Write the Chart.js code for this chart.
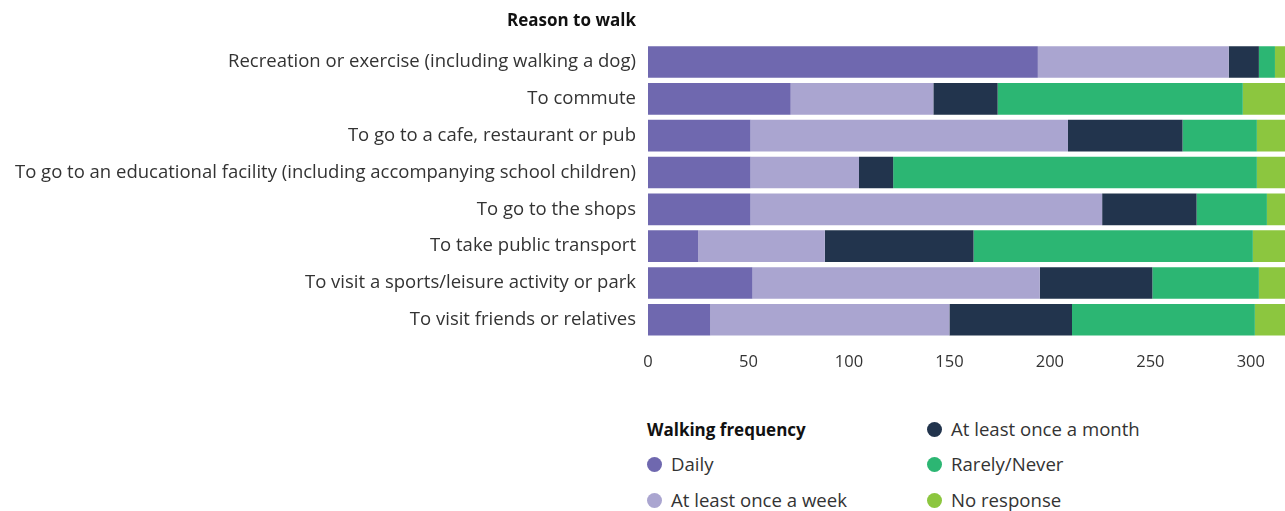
<!DOCTYPE html>
<html>
<head>
<meta charset="utf-8">
<script src="https://cdn.jsdelivr.net/npm/chart.js@4"></script>
<style>
    body { margin: 0; background: #fff; font-family: 'Open Sans', sans-serif; color: #333; }
    #wrap { position: relative; width: 1285px; height: 511px; }
    #walkChart { position: absolute; left: 0; top: 0; }
    #axisTitle { position: absolute; right: 649px; top: 8px; font-weight: bold; font-size: 17px; color: #111; }
    #legendTitle { position: absolute; left: 647px; top: 418px; font-weight: bold; font-size: 17px; color: #111; }
    .legend-item { position: absolute; font-size: 18.6px; color: #333; white-space: nowrap; line-height: 24px; }
    .legend-item span.dot { position: absolute; left: -24px; top: 5px; width: 15px; height: 15px; border-radius: 50%; }
</style>
</head>
<body>
<div id="wrap">
    <canvas id="walkChart" width="1285" height="387"></canvas>
    <div id="axisTitle">Reason to walk</div>
    <div id="legendTitle">Walking frequency</div>
</div>
<script>
const reasons = [
    'Recreation or exercise (including walking a dog)',
    'To commute',
    'To go to a cafe, restaurant or pub',
    'To go to an educational facility (including accompanying school children)',
    'To go to the shops',
    'To take public transport',
    'To visit a sports/leisure activity or park',
    'To visit friends or relatives'
];

const frequencies = ['Daily', 'At least once a week', 'At least once a month', 'Rarely/Never', 'No response'];
const frequencyColors = ['#6f68af', '#aaa5d0', '#22344d', '#2cb673', '#8cc63f'];

const daily = [194, 71, 51, 51, 51, 25, 52, 31];
const weekly = [95, 71, 158, 54, 175, 63, 143, 119];
const monthly = [15, 32, 57, 17, 47, 74, 56, 61];
const rarelyNever = [8, 122, 37, 181, 35, 139, 53, 91];
const noResponse = [5, 21, 14, 14, 9, 16, 13, 15];

const xTicks = [0, 50, 100, 150, 200, 250, 300];
const xMax = 317;

document.addEventListener('DOMContentLoaded', () => {
    const walkCtx = document.getElementById('walkChart').getContext('2d');
    const seriesValues = [daily, weekly, monthly, rarelyNever, noResponse];

    const walkData = {
        labels: reasons,
        datasets: frequencies.map((name, i) => ({
            label: name,
            data: seriesValues[i],
            backgroundColor: frequencyColors[i],
            borderWidth: 0,
            barPercentage: 0.86,
            categoryPercentage: 1.0
        }))
    };

    const walkOptions = {
        indexAxis: 'y',
        responsive: false,
        animation: false,
        devicePixelRatio: 1,
        layout: { padding: { top: 43.6, right: 0, bottom: 9, left: 0 } },
        plugins: {
            legend: { display: false },
            tooltip: { enabled: false }
        },
        scales: {
            x: {
                stacked: true,
                min: 0,
                max: xMax,
                afterBuildTicks: (axis) => { axis.ticks = xTicks.map(v => ({ value: v })); },
                grid: { display: false },
                border: { display: false },
                ticks: { color: '#333', font: { family: 'Open Sans', size: 16.5 }, padding: 6 }
            },
            y: {
                stacked: true,
                afterFit: (axis) => { axis.width = 648; },
                grid: { display: false },
                border: { display: false },
                ticks: { color: '#333', font: { family: 'Open Sans', size: 18.5 }, padding: 4, autoSkip: false }
            }
        }
    };

    new Chart(walkCtx, { type: 'bar', data: walkData, options: walkOptions });

    // legend built from the series names, two columns of three rows
    const wrap = document.getElementById('wrap');
    const slots = [
        { left: 671, top: 452 }, { left: 671, top: 488 },
        { left: 951, top: 417 }, { left: 951, top: 452 }, { left: 951, top: 488 }
    ];
    frequencies.forEach((name, i) => {
        const item = document.createElement('div');
        item.className = 'legend-item';
        item.style.left = slots[i].left + 'px';
        item.style.top = slots[i].top + 'px';
        item.innerHTML = '<span class="dot" style="background:' + frequencyColors[i] + '"></span>' + name;
        wrap.appendChild(item);
    });
});
</script>
</body>
</html>
